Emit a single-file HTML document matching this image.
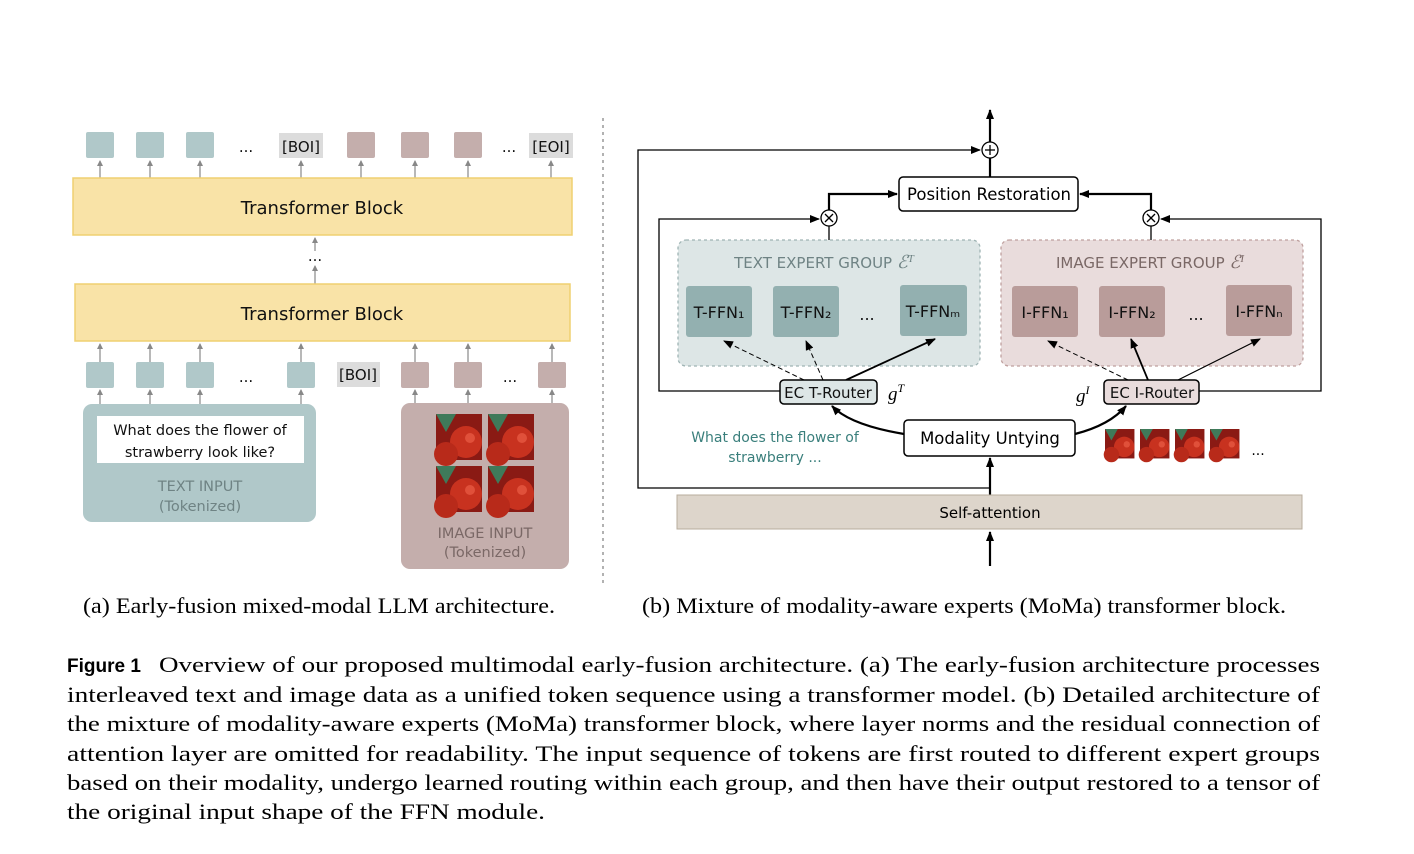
<!DOCTYPE html>
<html><head><meta charset="utf-8"><style>
html,body{margin:0;padding:0;background:#fff}
svg{display:block}
.s{font-family:"DejaVu Sans","Liberation Sans",sans-serif}
.r{font-family:"Liberation Serif",serif}
</style></head><body>
<svg width="1414" height="854" viewBox="0 0 1414 854" xmlns="http://www.w3.org/2000/svg">
<defs>
<marker id="ag" markerWidth="6" markerHeight="6" refX="5" refY="3" orient="auto" markerUnits="userSpaceOnUse"><path d="M0,0 L6,3 L0,6 z" fill="#888"/></marker>
<marker id="ab" markerWidth="10" markerHeight="8" refX="9" refY="4" orient="auto" markerUnits="userSpaceOnUse"><path d="M0,0 L10,4 L0,8 z" fill="#000"/></marker>
<g id="straw">
<rect width="46" height="46" fill="#8a1a14"/>
<circle cx="30" cy="28" r="16" fill="#c8321f"/>
<circle cx="10" cy="40" r="12" fill="#b82a1a"/>
<path d="M0,0 L20,0 L10,18 z" fill="#3f7a5a"/>
<circle cx="34" cy="24" r="5" fill="#e0503a"/>
</g>
</defs>

<!-- LEFT -->
<g fill="#b0c8c9">
<rect x="86" y="132" width="28" height="26" rx="2"/><rect x="136" y="132" width="28" height="26" rx="2"/><rect x="186" y="132" width="28" height="26" rx="2"/>
<rect x="86" y="362" width="28" height="26" rx="2"/><rect x="136" y="362" width="28" height="26" rx="2"/><rect x="186" y="362" width="28" height="26" rx="2"/><rect x="287" y="362" width="28" height="26" rx="2"/>
</g>
<g fill="#c4aeac">
<rect x="347" y="132" width="28" height="26" rx="2"/><rect x="401" y="132" width="28" height="26" rx="2"/><rect x="454" y="132" width="28" height="26" rx="2"/>
<rect x="401" y="362" width="28" height="26" rx="2"/><rect x="454" y="362" width="28" height="26" rx="2"/><rect x="538" y="362" width="28" height="26" rx="2"/>
</g>
<g fill="#dcdcdc"><rect x="279" y="133" width="44" height="25"/><rect x="529" y="133" width="44" height="25"/><rect x="337" y="362" width="43" height="25"/></g>
<g class="s" font-size="15" fill="#111" text-anchor="middle">
<text x="301" y="152">[BOI]</text><text x="551" y="152">[EOI]</text><text x="358" y="380">[BOI]</text>
<text x="246" y="152">...</text><text x="509" y="152">...</text><text x="246" y="382">...</text><text x="510" y="382">...</text>
<text x="315" y="261">...</text>
</g>
<g stroke="#888" stroke-width="1.2" marker-end="url(#ag)">
<line x1="100" y1="178" x2="100" y2="161"/><line x1="150" y1="178" x2="150" y2="161"/><line x1="200" y1="178" x2="200" y2="161"/><line x1="301" y1="178" x2="301" y2="161"/><line x1="361" y1="178" x2="361" y2="161"/><line x1="415" y1="178" x2="415" y2="161"/><line x1="468" y1="178" x2="468" y2="161"/><line x1="551" y1="178" x2="551" y2="161"/>
<line x1="315" y1="251" x2="315" y2="238"/><line x1="315" y1="284" x2="315" y2="266"/>
<line x1="100" y1="362" x2="100" y2="344"/><line x1="150" y1="362" x2="150" y2="344"/><line x1="200" y1="362" x2="200" y2="344"/><line x1="301" y1="362" x2="301" y2="344"/><line x1="415" y1="362" x2="415" y2="344"/><line x1="468" y1="362" x2="468" y2="344"/><line x1="552" y1="362" x2="552" y2="344"/>
<line x1="100" y1="404" x2="100" y2="390"/><line x1="150" y1="404" x2="150" y2="390"/><line x1="200" y1="404" x2="200" y2="390"/><line x1="301" y1="404" x2="301" y2="390"/><line x1="415" y1="404" x2="415" y2="390"/><line x1="468" y1="404" x2="468" y2="390"/><line x1="552" y1="404" x2="552" y2="390"/>
</g>
<rect x="73" y="178" width="499" height="57" fill="#f9e3a7" stroke="#efd070" stroke-width="1.5"/>
<rect x="75" y="284" width="495" height="57" fill="#f9e3a7" stroke="#efd070" stroke-width="1.5"/>
<g class="s" font-size="18" fill="#111" text-anchor="middle"><text x="322" y="214">Transformer Block</text><text x="322" y="320">Transformer Block</text></g>

<rect x="83" y="404" width="233" height="118" rx="9" fill="#b0c8c9"/>
<rect x="97" y="416" width="207" height="47" fill="#fff"/>
<g class="s" font-size="14.5" fill="#111" text-anchor="middle"><text x="200" y="435">What does the flower of</text><text x="200" y="457">strawberry look like?</text></g>
<g class="s" font-size="14.5" fill="#6f8384" text-anchor="middle"><text x="200" y="491">TEXT INPUT</text><text x="200" y="511">(Tokenized)</text></g>
<rect x="401" y="403" width="168" height="166" rx="9" fill="#c4aeac"/>
<use href="#straw" x="436" y="414"/><use href="#straw" x="488" y="414"/><use href="#straw" x="436" y="466"/><use href="#straw" x="488" y="466"/>
<g class="s" font-size="14.5" fill="#7a6866" text-anchor="middle"><text x="485" y="538">IMAGE INPUT</text><text x="485" y="557">(Tokenized)</text></g>

<line x1="603" y1="118" x2="603" y2="585" stroke="#999" stroke-width="1.5" stroke-dasharray="3,4"/>

<!-- RIGHT -->
<g fill="none" stroke="#000" stroke-width="1.3">
<polyline points="990,488 638,488 638,150 980,150" marker-end="url(#ab)"/>
<polyline points="780,391 659,391 659,219 819,219" marker-end="url(#ab)"/>
<polyline points="1199,391 1321,391 1321,219 1161,219" marker-end="url(#ab)"/>
</g>
<g fill="none" stroke="#000" stroke-width="2.2">
<line x1="990" y1="142" x2="990" y2="110" marker-end="url(#ab)"/>
<line x1="990" y1="177" x2="990" y2="158"/>
<polyline points="829,210 829,194 897,194" marker-end="url(#ab)"/>
<polyline points="1151,210 1151,194 1080,194" marker-end="url(#ab)"/>
<line x1="829" y1="240" x2="829" y2="226" stroke-width="1.3"/>
<line x1="1151" y1="240" x2="1151" y2="226" stroke-width="1.3"/>
<line x1="990" y1="495" x2="990" y2="458" marker-end="url(#ab)"/>
<line x1="990" y1="566" x2="990" y2="532" marker-end="url(#ab)"/>
<path d="M904,434 Q850,425 832,406" marker-end="url(#ab)"/>
<path d="M1075,434 Q1110,425 1126,406" marker-end="url(#ab)"/>
</g>
<rect x="678" y="240" width="302" height="126" rx="8" fill="#dde6e6" stroke="#9fb4b4" stroke-width="1.3" stroke-dasharray="3,3"/>
<rect x="1001" y="240" width="302" height="126" rx="8" fill="#e9dcdc" stroke="#bfa09e" stroke-width="1.3" stroke-dasharray="3,3"/>
<g fill="#93b0b0"><rect x="686" y="286" width="66" height="51" rx="3"/><rect x="773" y="286" width="66" height="51" rx="3"/><rect x="900" y="285" width="67" height="51" rx="3"/></g>
<g fill="#b99c9a"><rect x="1012" y="286" width="66" height="51" rx="3"/><rect x="1099" y="286" width="66" height="51" rx="3"/><rect x="1226" y="285" width="66" height="51" rx="3"/></g>
<g class="s" font-size="16" fill="#111" text-anchor="middle">
<text x="719" y="318">T-FFN₁</text><text x="806" y="318">T-FFN₂</text><text x="933" y="317">T-FFNₘ</text><text x="867" y="320">...</text>
<text x="1045" y="318">I-FFN₁</text><text x="1132" y="318">I-FFN₂</text><text x="1259" y="317">I-FFNₙ</text><text x="1196" y="320">...</text>
</g>
<g class="s" font-size="15" text-anchor="middle"><text x="824" y="268" fill="#6f8384">TEXT EXPERT GROUP <tspan class="r" font-style="italic" font-size="18">ℰ</tspan><tspan class="r" font-style="italic" font-size="11" dy="-6">T</tspan></text>
<text x="1150" y="268" fill="#7a6866">IMAGE EXPERT GROUP <tspan class="r" font-style="italic" font-size="18">ℰ</tspan><tspan class="r" font-style="italic" font-size="11" dy="-6">I</tspan></text></g>
<g stroke="#000" fill="none">
<line x1="804" y1="380" x2="724" y2="341" stroke-width="1" stroke-dasharray="5,3" marker-end="url(#ab)"/>
<line x1="823" y1="380" x2="806" y2="341" stroke-width="1" stroke-dasharray="5,3" marker-end="url(#ab)"/>
<line x1="846" y1="380" x2="935" y2="339" stroke-width="1.8" marker-end="url(#ab)"/>
<line x1="1128" y1="380" x2="1048" y2="341" stroke-width="1" stroke-dasharray="5,3" marker-end="url(#ab)"/>
<line x1="1148" y1="380" x2="1131" y2="339" stroke-width="1.8" marker-end="url(#ab)"/>
<line x1="1178" y1="380" x2="1260" y2="339" stroke-width="1.2" marker-end="url(#ab)"/>
</g>
<rect x="780" y="380" width="97" height="24" rx="4" fill="#dde6e6" stroke="#000" stroke-width="1.5"/>
<rect x="1104" y="380" width="95" height="24" rx="4" fill="#e9dcdc" stroke="#000" stroke-width="1.5"/>
<g class="s" font-size="15" fill="#111" text-anchor="middle"><text x="828" y="398">EC T-Router</text><text x="1152" y="398">EC I-Router</text></g>
<text x="888" y="400" class="r" font-style="italic" font-size="19">g<tspan font-size="12" dy="-8">T</tspan></text>
<text x="1076" y="402" class="r" font-style="italic" font-size="19">g<tspan font-size="12" dy="-8">I</tspan></text>
<rect x="899" y="177" width="179" height="34" rx="4" fill="#fff" stroke="#000" stroke-width="1.5"/>
<text x="989" y="200" class="s" font-size="16.5" text-anchor="middle">Position Restoration</text>
<rect x="904" y="420" width="171" height="36" rx="4" fill="#fff" stroke="#000" stroke-width="1.5"/>
<text x="990" y="444" class="s" font-size="16.5" text-anchor="middle">Modality Untying</text>
<rect x="677" y="495" width="625" height="34" fill="#ddd5cb" stroke="#b8ad9e"/>
<text x="990" y="518" class="s" font-size="15" text-anchor="middle">Self-attention</text>
<g fill="#fff" stroke="#000" stroke-width="1.3">
<circle cx="990" cy="150" r="8"/><circle cx="829" cy="218" r="8"/><circle cx="1151" cy="218" r="8"/></g>
<g stroke="#000" stroke-width="1.3"><line x1="985" y1="150" x2="995" y2="150"/><line x1="990" y1="145" x2="990" y2="155"/>
<line x1="825" y1="214" x2="833" y2="222"/><line x1="833" y1="214" x2="825" y2="222"/><line x1="1147" y1="214" x2="1155" y2="222"/><line x1="1155" y1="214" x2="1147" y2="222"/></g>
<g class="s" font-size="14" fill="#3a7f7c" text-anchor="middle"><text x="775" y="442">What does the flower of</text><text x="775" y="462">strawberry ...</text></g>
<g transform="translate(1105,429) scale(0.64)"><use href="#straw"/></g>
<g transform="translate(1140,429) scale(0.64)"><use href="#straw"/></g>
<g transform="translate(1175,429) scale(0.64)"><use href="#straw"/></g>
<g transform="translate(1210,429) scale(0.64)"><use href="#straw"/></g>
<text x="1258" y="455" class="s" font-size="14" text-anchor="middle">...</text>

<g class="r" font-size="22" fill="#000">
<text x="83" y="613" textLength="472" lengthAdjust="spacingAndGlyphs">(a) Early-fusion mixed-modal LLM architecture.</text>
<text x="642" y="613" textLength="644" lengthAdjust="spacingAndGlyphs">(b) Mixture of modality-aware experts (MoMa) transformer block.</text>
</g>
<g class="r" font-size="22.5" fill="#000">
<text x="67" y="672" font-weight="bold" font-size="19" font-family="Liberation Sans, sans-serif">Figure 1</text>
<text x="159" y="672" textLength="1161" lengthAdjust="spacingAndGlyphs">Overview of our proposed multimodal early-fusion architecture. (a) The early-fusion architecture processes</text>
<text x="67" y="702" textLength="1253" lengthAdjust="spacingAndGlyphs">interleaved text and image data as a unified token sequence using a transformer model. (b) Detailed architecture of</text>
<text x="67" y="731" textLength="1253" lengthAdjust="spacingAndGlyphs">the mixture of modality-aware experts (MoMa) transformer block, where layer norms and the residual connection of</text>
<text x="67" y="761" textLength="1253" lengthAdjust="spacingAndGlyphs">attention layer are omitted for readability. The input sequence of tokens are first routed to different expert groups</text>
<text x="67" y="790" textLength="1253" lengthAdjust="spacingAndGlyphs">based on their modality, undergo learned routing within each group, and then have their output restored to a tensor of</text>
<text x="67" y="819" textLength="478" lengthAdjust="spacingAndGlyphs">the original input shape of the FFN module.</text>
</g>
</svg>
</body></html>
